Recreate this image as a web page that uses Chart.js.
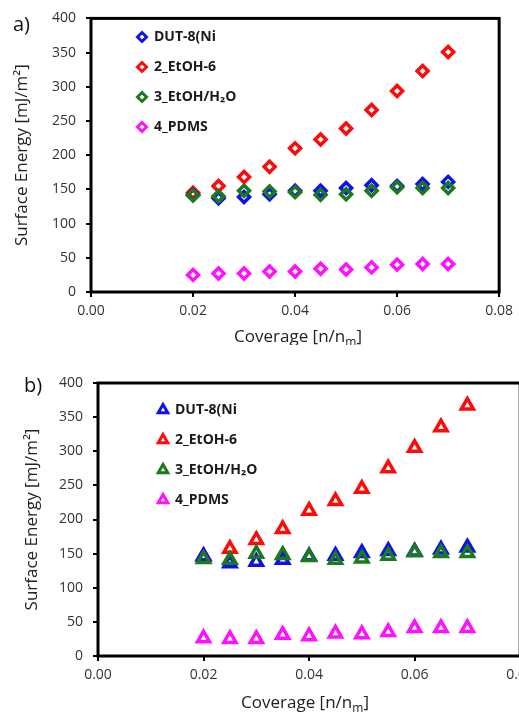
<!DOCTYPE html>
<html>
<head>
<meta charset="utf-8">
<script src="https://cdn.jsdelivr.net/npm/chart.js@4.4.1/dist/chart.umd.min.js"></script>
<style>
  html, body { margin: 0; padding: 0; background: #fff; width: 519px; height: 712px; overflow: hidden; }
  .panel { position: absolute; left: 0; }
  #panelA { top: 0; }
  #panelB { top: 345px; }
  .tag { position: absolute; font: 20px "Open Sans", sans-serif; color: #111; }
</style>
</head>
<body>
<div class="panel" id="panelA"><canvas id="chartA" width="519" height="345"></canvas></div>
<div class="panel" id="panelB"><canvas id="chartB" width="540" height="367"></canvas></div>
<div class="tag" style="left:13px; top:10px;">a)</div>
<div class="tag" style="left:24px; top:371px;">b)</div>
<script>
// coverage n/n_m
const coverage = [0.02, 0.025, 0.03, 0.035, 0.04, 0.045, 0.05, 0.055, 0.06, 0.065, 0.07];

const seriesNames = ["DUT-8(Ni", "2_EtOH-6", "3_EtOH/H\u2082O", "4_PDMS"];
const seriesColors = ["#1010ee", "#ff0a0a", "#1b7a1b", "#ff10ff"];

// panel a (diamonds)
const dut8A  = [142, 137, 139, 143, 148, 148, 152, 156, 155, 158, 161];
const etoh6A = [145, 155, 168, 183, 210, 223, 239, 266, 294, 323, 351];
const waterA = [141, 140, 148, 147, 146, 142, 143, 148, 153, 152, 152];
const pdmsA  = [25, 27, 27, 30, 30, 34, 33, 36, 40, 41, 41];

// panel b (triangles)
const dut8B  = [146, 136, 138, 141, 146, 147, 151, 154, 153, 156, 159];
const etoh6B = [146, 157, 170, 186, 213, 227, 245, 275, 305, 335, 367];
const waterB = [142, 141, 150, 148, 145, 141, 143, 147, 152, 151, 151];
const pdmsB  = [26, 25, 25, 31, 29, 33, 32, 35, 41, 41, 41];

const yTicks = [0, 50, 100, 150, 200, 250, 300, 350, 400];
const xTicks = [0, 0.02, 0.04, 0.06, 0.08];

const FONT = '"Open Sans", sans-serif';

// legend drawn inside the plot area
const innerLegend = {
  id: 'innerLegend',
  afterDraw(chart, args, opts) {
    const ctx = chart.ctx;
    ctx.save();
    // legend order is the dataset index order, not draw order
    chart.data.datasets.forEach((ds, i) => {
      const y = opts.y + i * opts.dy;
      ctx.strokeStyle = ds.borderColor;
      ctx.fillStyle = '#fff';
      ctx.lineWidth = 3;
      Chart.helpers.drawPoint(ctx, { pointStyle: ds.pointStyle, radius: opts.markerRadius, borderWidth: 3 }, opts.markerX, y);
      ctx.fillStyle = '#1a1a1a';
      ctx.font = 'bold 14px ' + FONT;
      ctx.textBaseline = 'middle';
      ctx.textAlign = 'left';
      ctx.fillText(ds.label, opts.textX, y);
    });
    ctx.restore();
  }
};

// black box round the plot area plus x title with subscript
const frameAndTitle = {
  id: 'frameAndTitle',
  beforeDatasetsDraw(chart) {
    const a = chart.chartArea, ctx = chart.ctx;
    ctx.save();
    ctx.strokeStyle = '#000';
    ctx.lineWidth = 3;
    ctx.strokeRect(a.left, a.top, a.right - a.left, a.bottom - a.top);
    ctx.restore();
  },
  afterDraw(chart, args, opts) {
    const ctx = chart.ctx;
    ctx.save();
    ctx.fillStyle = '#222';
    ctx.textBaseline = 'alphabetic';
    ctx.textAlign = 'left';
    const big = '17px ' + FONT, small = '12px ' + FONT;
    ctx.font = big;
    const p1 = 'Coverage [n/n', p3 = ']';
    const w1 = ctx.measureText(p1).width, w3 = ctx.measureText(p3).width;
    ctx.font = small;
    const w2 = ctx.measureText('m').width;
    let x = opts.cx - (w1 + w2 + w3) / 2;
    ctx.font = big;
    ctx.fillText(p1, x, opts.baseline);
    ctx.font = small;
    ctx.fillText('m', x + w1, opts.baseline + 4);
    ctx.font = big;
    ctx.fillText(p3, x + w1 + w2, opts.baseline);
    ctx.restore();
  }
};

function makeChart(id, data, cfg) {
  const ds = data.map((vals, i) => ({
    label: seriesNames[i],
    data: coverage.map((c, j) => ({ x: c, y: vals[j] })),
    borderColor: seriesColors[i],
    backgroundColor: 'rgba(255,255,255,0)',
    pointStyle: cfg.pointStyle,
    pointRadius: cfg.pointRadius,
    pointBorderWidth: cfg.pointBorder,
    showLine: false,
    // green on top, then blue, red underneath
    order: [2, 3, 1, 0][i]
  }));
  return new Chart(document.getElementById(id), {
    type: 'scatter',
    data: { datasets: ds },
    options: {
      responsive: false,
      animation: false,
      devicePixelRatio: 1,
      layout: { padding: cfg.padding },
      plugins: {
        legend: { display: false },
        tooltip: { enabled: false },
        innerLegend: cfg.legend,
        frameAndTitle: cfg.title
      },
      scales: {
        x: {
          type: 'linear', min: 0, max: 0.08,
          afterBuildTicks: s => { s.ticks = xTicks.map(v => ({ value: v })); },
          afterFit: s => { s.height = cfg.xHeight; },
          border: { display: false },
          grid: { drawOnChartArea: false, drawTicks: true, tickLength: 5, color: '#000', lineWidth: 2 },
          ticks: { callback: v => v.toFixed(2), color: '#333', font: { family: FONT, size: 14 }, padding: 6, maxRotation: 0 }
        },
        y: {
          type: 'linear', min: 0, max: 400,
          afterBuildTicks: s => { s.ticks = yTicks.map(v => ({ value: v })); },
          afterFit: s => { s.width = cfg.yWidth; },
          border: { display: false },
          grid: { drawOnChartArea: false, drawTicks: true, tickLength: 5, color: '#000', lineWidth: 2 },
          ticks: { color: '#333', font: { family: FONT, size: 14 }, padding: 10 },
          title: {
            display: true, text: 'Surface Energy [mJ/m\u00b2]', color: '#222',
            font: { family: FONT, size: 17 }, padding: { top: cfg.yTitlePad, bottom: 0 }
          }
        }
      }
    },
    plugins: [frameAndTitle, innerLegend]
  });
}

makeChart('chartA', [dut8A, etoh6A, waterA, pdmsA], {
  pointStyle: 'rectRot', pointRadius: 5.5, pointBorder: 3.5,
  padding: { left: 0, top: 15, right: 7, bottom: 0 },
  yWidth: 91, xHeight: 53, yTitlePad: 12,
  legend: { markerX: 142, textX: 154, y: 37, dy: 30, markerRadius: 4.5 },
  title: { cx: 298, baseline: 342 }
});

makeChart('chartB', [dut8B, etoh6B, waterB, pdmsB], {
  pointStyle: 'triangle', pointRadius: 7, pointBorder: 3.5,
  padding: { left: 0, top: 38, right: 14, bottom: 0 },
  yWidth: 98, xHeight: 56, yTitlePad: 22,
  legend: { markerX: 163, textX: 175, y: 65, dy: 30, markerRadius: 5.5 },
  title: { cx: 305, baseline: 363 }
});
</script>
</body>
</html>
